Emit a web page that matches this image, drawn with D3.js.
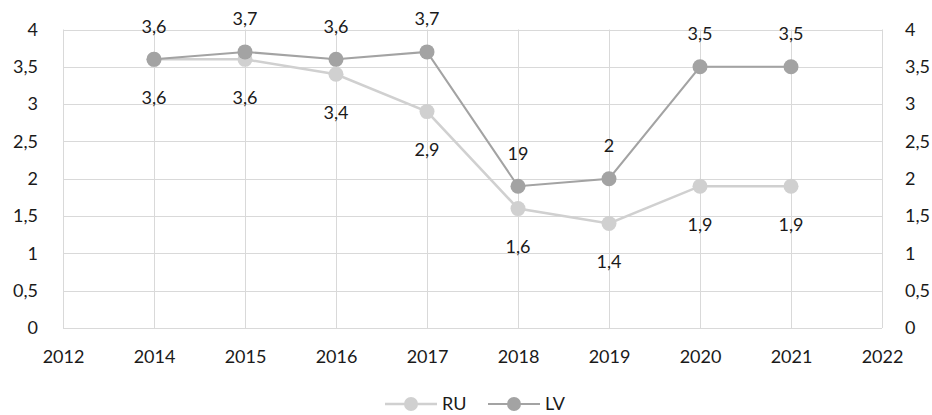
<!DOCTYPE html>
<html>
<head>
<meta charset="utf-8">
<script src="https://cdn.jsdelivr.net/npm/d3@7"></script>
<style>
  body { margin: 0; background: #fff; }
  text { font-family: Lato, "Open Sans", sans-serif; font-size: 18px; fill: #1a1a1a; }
</style>
</head>
<body>
<div id="chart"></div>
<script>
// tick labels along the bottom (as printed on the original)
const tick_labels = ['2012', '2014', '2015', '2016', '2017', '2018', '2019', '2020', '2021', '2022'];
const years = ['2014', '2015', '2016', '2017', '2018', '2019', '2020', '2021'];
const ru_values = [3.6, 3.6, 3.4, 2.9, 1.6, 1.4, 1.9, 1.9];
const lv_values = [3.6, 3.7, 3.6, 3.7, 1.9, 2, 3.5, 3.5];
// labels as shown (2018 LV reads "19" on the original)
const lv_labels = ['3,6', '3,7', '3,6', '3,7', '19', '2', '3,5', '3,5'];
const y_ticks = [0, 0.5, 1, 1.5, 2, 2.5, 3, 3.5, 4];

const width = 932, height = 415;
const margin = { left: 63, right: 50, top: 29.5, bottom: 87 };

const fmt = v => String(v).replace('.', ',');

const svg = d3.select('#chart')
  .append('svg')
  .attr('width', width)
  .attr('height', height);

const x = d3.scalePoint()
  .domain(tick_labels)
  .range([margin.left, width - margin.right]);

const y = d3.scaleLinear()
  .domain([0, 4])
  .range([height - margin.bottom, margin.top]);

// gridlines
svg.append('g')
  .selectAll('line')
  .data(y_ticks)
  .join('line')
  .attr('x1', margin.left)
  .attr('x2', width - margin.right)
  .attr('y1', d => Math.round(y(d)) + 0.5)
  .attr('y2', d => Math.round(y(d)) + 0.5)
  .attr('stroke', '#d9d9d9');

svg.append('g')
  .selectAll('line')
  .data(tick_labels)
  .join('line')
  .attr('x1', d => Math.round(x(d)) + 0.5)
  .attr('x2', d => Math.round(x(d)) + 0.5)
  .attr('y1', y(4))
  .attr('y2', y(0))
  .attr('stroke', '#d9d9d9');

// left / right axes (labels only)
const y_left = d3.axisLeft(y).tickValues(y_ticks).tickFormat(fmt).tickSize(0).tickPadding(25);
svg.append('g')
  .attr('transform', `translate(${margin.left}, 0)`)
  .call(y_left)
  .call(g => g.select('.domain').remove())
  .selectAll('text').attr('font-size', null).attr('font-family', null).attr('fill', null);

const y_right = d3.axisRight(y).tickValues(y_ticks).tickFormat(fmt).tickSize(0).tickPadding(23);
svg.append('g')
  .attr('transform', `translate(${width - margin.right}, 0)`)
  .call(y_right)
  .call(g => g.select('.domain').remove())
  .selectAll('text').attr('font-size', null).attr('font-family', null).attr('fill', null);

const x_axis = d3.axisBottom(x).tickSize(0).tickPadding(22);
svg.append('g')
  .attr('transform', `translate(0, ${y(0)})`)
  .call(x_axis)
  .call(g => g.select('.domain').remove())
  .selectAll('text').attr('font-size', null).attr('font-family', null).attr('fill', null);

const line = d3.line()
  .x(d => x(d[0]))
  .y(d => y(d[1]));

const series = [
  { name: 'RU', values: ru_values, labels: ru_values.map(fmt), color: '#d0d0d0', width: 2.5, dy: 38 },
  { name: 'LV', values: lv_values, labels: lv_labels, color: '#a3a3a3', width: 2, dy: -33 }
];

series.forEach(s => {
  const pts = years.map((yr, i) => [yr, s.values[i], s.labels[i]]);
  svg.append('path')
    .datum(pts)
    .attr('d', line)
    .attr('fill', 'none')
    .attr('stroke', s.color)
    .attr('stroke-width', s.width);
  svg.append('g')
    .selectAll('circle')
    .data(pts)
    .join('circle')
    .attr('cx', d => x(d[0]))
    .attr('cy', d => y(d[1]))
    .attr('r', 7.5)
    .attr('fill', s.color);
});

// data labels on top
series.forEach(s => {
  const pts = years.map((yr, i) => [yr, s.values[i], s.labels[i]]);
  svg.append('g')
    .selectAll('text')
    .data(pts)
    .join('text')
    .attr('x', d => x(d[0]))
    .attr('y', d => y(d[1]) + s.dy)
    .attr('dy', '0.35em')
    .attr('text-anchor', 'middle')
    .text(d => d[2]);
});

// legend
const legend = svg.append('g').attr('transform', 'translate(385, 404)');
series.forEach((s, i) => {
  const g = legend.append('g').attr('transform', `translate(${i * 103}, 0)`);
  g.append('line')
    .attr('x1', 0).attr('x2', 52)
    .attr('stroke', s.color)
    .attr('stroke-width', s.width);
  g.append('circle')
    .attr('cx', 26).attr('r', 7)
    .attr('fill', s.color);
  g.append('text')
    .attr('x', 57)
    .attr('dy', '0.35em')
    .text(s.name);
});
</script>
</body>
</html>
